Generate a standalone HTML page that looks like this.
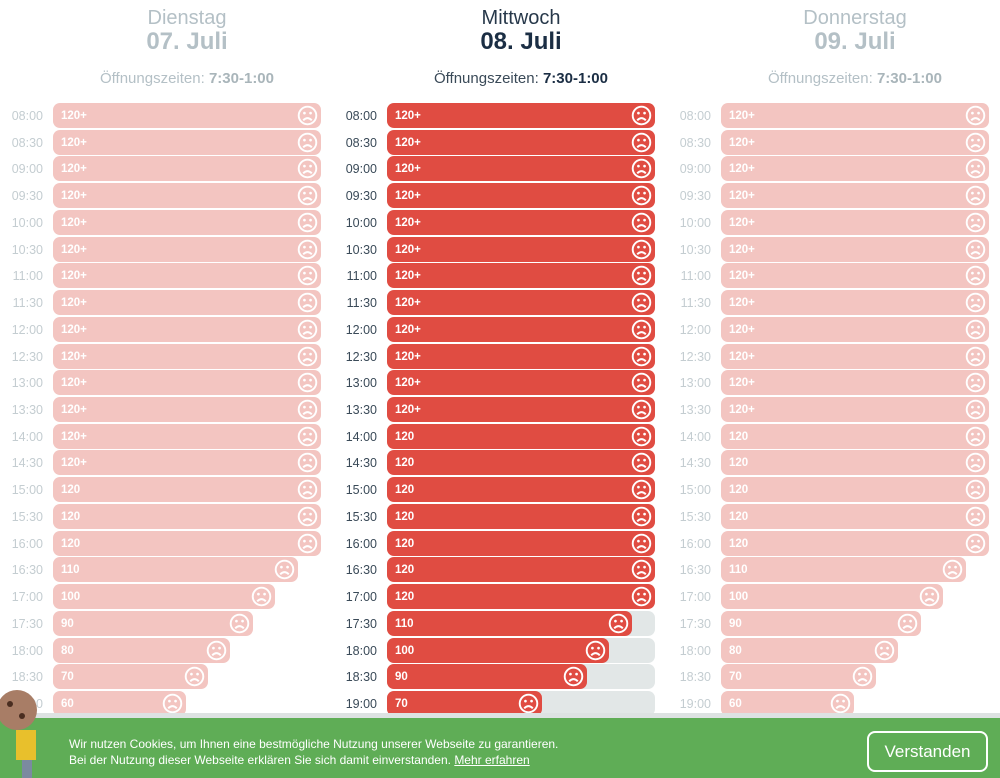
<!DOCTYPE html>
<html><head><meta charset="utf-8"><style>
*{margin:0;padding:0;box-sizing:border-box}
body{width:1000px;height:778px;overflow:hidden;background:#fff;font-family:"Liberation Sans",sans-serif;position:relative}
.col{position:absolute;top:0;width:334px;height:778px}
.h1{position:absolute;top:7px;left:53px;width:268px;text-align:center;font-size:20px;color:#b4c0c6}
.h2{position:absolute;top:28px;left:53px;width:268px;text-align:center;font-size:24px;font-weight:bold;color:#b4c0c6}
.oz{position:absolute;top:70px;left:53px;width:268px;text-align:center;font-size:15px;color:#b4c0c6}
.oz b{color:#a9b5ba}
.act .h1{color:#27384a}.act .h2{color:#1b2e44}.act .oz{color:#3a4a58}.act .oz b{color:#1b2e44}
.r{position:absolute;left:0;width:334px;height:25px}
.t{position:absolute;left:0;width:43px;text-align:right;top:6px;font-size:12.5px;color:#c4cdd1}
.act .t{color:#3a4a58}
.tr{position:absolute;left:53px;top:0;width:268px;height:25px;border-radius:7px;background:#e2e7e7}
.b{position:absolute;left:53px;top:0;height:25px;border-radius:7px;background:#f3c5c1}
.act .b{background:#e04c42}
.b b{position:absolute;left:8px;top:7px;font-size:11.5px;color:#fff}
.b svg{position:absolute;right:3px;top:2px}
.ban{position:absolute;left:0;top:718px;width:1000px;height:60px;background:#5fad56}
.sh{position:absolute;left:0;top:713px;width:1000px;height:5px;background:#dde2e2}
.txt{position:absolute;left:69px;top:736px;font-size:12px;line-height:16px;color:#fff}
.txt u{color:#fff}
.btn{position:absolute;left:867px;top:731px;width:121px;height:41px;border:2px solid #fff;border-radius:8px;color:#fff;font-size:17px;text-align:center;line-height:37px}
</style></head><body>
<svg width="0" height="0" style="position:absolute"><defs><symbol id="f" viewBox="0 0 22 22"><circle cx="11" cy="11" r="9.2" fill="none" stroke="#fff" stroke-width="2"/><circle cx="7.8" cy="8.5" r="1.4" fill="#fff"/><circle cx="14.2" cy="8.5" r="1.4" fill="#fff"/><path d="M6.5 16 Q11 11.5 15.5 16" fill="none" stroke="#fff" stroke-width="2"/></symbol></defs></svg>

<div class="col" style="left:0">
<div class="h1">Dienstag</div><div class="h2">07. Juli</div><div class="oz">Öffnungszeiten: <b>7:30-1:00</b></div>
<div class="r" style="top:103px"><span class="t">08:00</span><div class="b" style="width:268px"><b>120+</b><svg width="21" height="21"><use href="#f"/></svg></div></div>
<div class="r" style="top:130px"><span class="t">08:30</span><div class="b" style="width:268px"><b>120+</b><svg width="21" height="21"><use href="#f"/></svg></div></div>
<div class="r" style="top:156px"><span class="t">09:00</span><div class="b" style="width:268px"><b>120+</b><svg width="21" height="21"><use href="#f"/></svg></div></div>
<div class="r" style="top:183px"><span class="t">09:30</span><div class="b" style="width:268px"><b>120+</b><svg width="21" height="21"><use href="#f"/></svg></div></div>
<div class="r" style="top:210px"><span class="t">10:00</span><div class="b" style="width:268px"><b>120+</b><svg width="21" height="21"><use href="#f"/></svg></div></div>
<div class="r" style="top:237px"><span class="t">10:30</span><div class="b" style="width:268px"><b>120+</b><svg width="21" height="21"><use href="#f"/></svg></div></div>
<div class="r" style="top:263px"><span class="t">11:00</span><div class="b" style="width:268px"><b>120+</b><svg width="21" height="21"><use href="#f"/></svg></div></div>
<div class="r" style="top:290px"><span class="t">11:30</span><div class="b" style="width:268px"><b>120+</b><svg width="21" height="21"><use href="#f"/></svg></div></div>
<div class="r" style="top:317px"><span class="t">12:00</span><div class="b" style="width:268px"><b>120+</b><svg width="21" height="21"><use href="#f"/></svg></div></div>
<div class="r" style="top:344px"><span class="t">12:30</span><div class="b" style="width:268px"><b>120+</b><svg width="21" height="21"><use href="#f"/></svg></div></div>
<div class="r" style="top:370px"><span class="t">13:00</span><div class="b" style="width:268px"><b>120+</b><svg width="21" height="21"><use href="#f"/></svg></div></div>
<div class="r" style="top:397px"><span class="t">13:30</span><div class="b" style="width:268px"><b>120+</b><svg width="21" height="21"><use href="#f"/></svg></div></div>
<div class="r" style="top:424px"><span class="t">14:00</span><div class="b" style="width:268px"><b>120+</b><svg width="21" height="21"><use href="#f"/></svg></div></div>
<div class="r" style="top:450px"><span class="t">14:30</span><div class="b" style="width:268px"><b>120+</b><svg width="21" height="21"><use href="#f"/></svg></div></div>
<div class="r" style="top:477px"><span class="t">15:00</span><div class="b" style="width:268px"><b>120</b><svg width="21" height="21"><use href="#f"/></svg></div></div>
<div class="r" style="top:504px"><span class="t">15:30</span><div class="b" style="width:268px"><b>120</b><svg width="21" height="21"><use href="#f"/></svg></div></div>
<div class="r" style="top:531px"><span class="t">16:00</span><div class="b" style="width:268px"><b>120</b><svg width="21" height="21"><use href="#f"/></svg></div></div>
<div class="r" style="top:557px"><span class="t">16:30</span><div class="b" style="width:245px"><b>110</b><svg width="21" height="21"><use href="#f"/></svg></div></div>
<div class="r" style="top:584px"><span class="t">17:00</span><div class="b" style="width:222px"><b>100</b><svg width="21" height="21"><use href="#f"/></svg></div></div>
<div class="r" style="top:611px"><span class="t">17:30</span><div class="b" style="width:200px"><b>90</b><svg width="21" height="21"><use href="#f"/></svg></div></div>
<div class="r" style="top:638px"><span class="t">18:00</span><div class="b" style="width:177px"><b>80</b><svg width="21" height="21"><use href="#f"/></svg></div></div>
<div class="r" style="top:664px"><span class="t">18:30</span><div class="b" style="width:155px"><b>70</b><svg width="21" height="21"><use href="#f"/></svg></div></div>
<div class="r" style="top:691px"><span class="t">19:00</span><div class="b" style="width:133px"><b>60</b><svg width="21" height="21"><use href="#f"/></svg></div></div>
</div>

<div class="col act" style="left:334px">
<div class="h1">Mittwoch</div><div class="h2">08. Juli</div><div class="oz">Öffnungszeiten: <b>7:30-1:00</b></div>
<div class="r" style="top:103px"><span class="t">08:00</span><div class="b" style="width:268px"><b>120+</b><svg width="21" height="21"><use href="#f"/></svg></div></div>
<div class="r" style="top:130px"><span class="t">08:30</span><div class="b" style="width:268px"><b>120+</b><svg width="21" height="21"><use href="#f"/></svg></div></div>
<div class="r" style="top:156px"><span class="t">09:00</span><div class="b" style="width:268px"><b>120+</b><svg width="21" height="21"><use href="#f"/></svg></div></div>
<div class="r" style="top:183px"><span class="t">09:30</span><div class="b" style="width:268px"><b>120+</b><svg width="21" height="21"><use href="#f"/></svg></div></div>
<div class="r" style="top:210px"><span class="t">10:00</span><div class="b" style="width:268px"><b>120+</b><svg width="21" height="21"><use href="#f"/></svg></div></div>
<div class="r" style="top:237px"><span class="t">10:30</span><div class="b" style="width:268px"><b>120+</b><svg width="21" height="21"><use href="#f"/></svg></div></div>
<div class="r" style="top:263px"><span class="t">11:00</span><div class="b" style="width:268px"><b>120+</b><svg width="21" height="21"><use href="#f"/></svg></div></div>
<div class="r" style="top:290px"><span class="t">11:30</span><div class="b" style="width:268px"><b>120+</b><svg width="21" height="21"><use href="#f"/></svg></div></div>
<div class="r" style="top:317px"><span class="t">12:00</span><div class="b" style="width:268px"><b>120+</b><svg width="21" height="21"><use href="#f"/></svg></div></div>
<div class="r" style="top:344px"><span class="t">12:30</span><div class="b" style="width:268px"><b>120+</b><svg width="21" height="21"><use href="#f"/></svg></div></div>
<div class="r" style="top:370px"><span class="t">13:00</span><div class="b" style="width:268px"><b>120+</b><svg width="21" height="21"><use href="#f"/></svg></div></div>
<div class="r" style="top:397px"><span class="t">13:30</span><div class="b" style="width:268px"><b>120+</b><svg width="21" height="21"><use href="#f"/></svg></div></div>
<div class="r" style="top:424px"><span class="t">14:00</span><div class="b" style="width:268px"><b>120</b><svg width="21" height="21"><use href="#f"/></svg></div></div>
<div class="r" style="top:450px"><span class="t">14:30</span><div class="b" style="width:268px"><b>120</b><svg width="21" height="21"><use href="#f"/></svg></div></div>
<div class="r" style="top:477px"><span class="t">15:00</span><div class="b" style="width:268px"><b>120</b><svg width="21" height="21"><use href="#f"/></svg></div></div>
<div class="r" style="top:504px"><span class="t">15:30</span><div class="b" style="width:268px"><b>120</b><svg width="21" height="21"><use href="#f"/></svg></div></div>
<div class="r" style="top:531px"><span class="t">16:00</span><div class="b" style="width:268px"><b>120</b><svg width="21" height="21"><use href="#f"/></svg></div></div>
<div class="r" style="top:557px"><span class="t">16:30</span><div class="b" style="width:268px"><b>120</b><svg width="21" height="21"><use href="#f"/></svg></div></div>
<div class="r" style="top:584px"><span class="t">17:00</span><div class="b" style="width:268px"><b>120</b><svg width="21" height="21"><use href="#f"/></svg></div></div>
<div class="r" style="top:611px"><span class="t">17:30</span><div class="tr"></div><div class="b" style="width:245px"><b>110</b><svg width="21" height="21"><use href="#f"/></svg></div></div>
<div class="r" style="top:638px"><span class="t">18:00</span><div class="tr"></div><div class="b" style="width:222px"><b>100</b><svg width="21" height="21"><use href="#f"/></svg></div></div>
<div class="r" style="top:664px"><span class="t">18:30</span><div class="tr"></div><div class="b" style="width:200px"><b>90</b><svg width="21" height="21"><use href="#f"/></svg></div></div>
<div class="r" style="top:691px"><span class="t">19:00</span><div class="tr"></div><div class="b" style="width:155px"><b>70</b><svg width="21" height="21"><use href="#f"/></svg></div></div>
</div>

<div class="col" style="left:668px">
<div class="h1">Donnerstag</div><div class="h2">09. Juli</div><div class="oz">Öffnungszeiten: <b>7:30-1:00</b></div>
<div class="r" style="top:103px"><span class="t">08:00</span><div class="b" style="width:268px"><b>120+</b><svg width="21" height="21"><use href="#f"/></svg></div></div>
<div class="r" style="top:130px"><span class="t">08:30</span><div class="b" style="width:268px"><b>120+</b><svg width="21" height="21"><use href="#f"/></svg></div></div>
<div class="r" style="top:156px"><span class="t">09:00</span><div class="b" style="width:268px"><b>120+</b><svg width="21" height="21"><use href="#f"/></svg></div></div>
<div class="r" style="top:183px"><span class="t">09:30</span><div class="b" style="width:268px"><b>120+</b><svg width="21" height="21"><use href="#f"/></svg></div></div>
<div class="r" style="top:210px"><span class="t">10:00</span><div class="b" style="width:268px"><b>120+</b><svg width="21" height="21"><use href="#f"/></svg></div></div>
<div class="r" style="top:237px"><span class="t">10:30</span><div class="b" style="width:268px"><b>120+</b><svg width="21" height="21"><use href="#f"/></svg></div></div>
<div class="r" style="top:263px"><span class="t">11:00</span><div class="b" style="width:268px"><b>120+</b><svg width="21" height="21"><use href="#f"/></svg></div></div>
<div class="r" style="top:290px"><span class="t">11:30</span><div class="b" style="width:268px"><b>120+</b><svg width="21" height="21"><use href="#f"/></svg></div></div>
<div class="r" style="top:317px"><span class="t">12:00</span><div class="b" style="width:268px"><b>120+</b><svg width="21" height="21"><use href="#f"/></svg></div></div>
<div class="r" style="top:344px"><span class="t">12:30</span><div class="b" style="width:268px"><b>120+</b><svg width="21" height="21"><use href="#f"/></svg></div></div>
<div class="r" style="top:370px"><span class="t">13:00</span><div class="b" style="width:268px"><b>120+</b><svg width="21" height="21"><use href="#f"/></svg></div></div>
<div class="r" style="top:397px"><span class="t">13:30</span><div class="b" style="width:268px"><b>120+</b><svg width="21" height="21"><use href="#f"/></svg></div></div>
<div class="r" style="top:424px"><span class="t">14:00</span><div class="b" style="width:268px"><b>120</b><svg width="21" height="21"><use href="#f"/></svg></div></div>
<div class="r" style="top:450px"><span class="t">14:30</span><div class="b" style="width:268px"><b>120</b><svg width="21" height="21"><use href="#f"/></svg></div></div>
<div class="r" style="top:477px"><span class="t">15:00</span><div class="b" style="width:268px"><b>120</b><svg width="21" height="21"><use href="#f"/></svg></div></div>
<div class="r" style="top:504px"><span class="t">15:30</span><div class="b" style="width:268px"><b>120</b><svg width="21" height="21"><use href="#f"/></svg></div></div>
<div class="r" style="top:531px"><span class="t">16:00</span><div class="b" style="width:268px"><b>120</b><svg width="21" height="21"><use href="#f"/></svg></div></div>
<div class="r" style="top:557px"><span class="t">16:30</span><div class="b" style="width:245px"><b>110</b><svg width="21" height="21"><use href="#f"/></svg></div></div>
<div class="r" style="top:584px"><span class="t">17:00</span><div class="b" style="width:222px"><b>100</b><svg width="21" height="21"><use href="#f"/></svg></div></div>
<div class="r" style="top:611px"><span class="t">17:30</span><div class="b" style="width:200px"><b>90</b><svg width="21" height="21"><use href="#f"/></svg></div></div>
<div class="r" style="top:638px"><span class="t">18:00</span><div class="b" style="width:177px"><b>80</b><svg width="21" height="21"><use href="#f"/></svg></div></div>
<div class="r" style="top:664px"><span class="t">18:30</span><div class="b" style="width:155px"><b>70</b><svg width="21" height="21"><use href="#f"/></svg></div></div>
<div class="r" style="top:691px"><span class="t">19:00</span><div class="b" style="width:133px"><b>60</b><svg width="21" height="21"><use href="#f"/></svg></div></div>
</div>

<div class="sh"></div>
<div class="ban"></div>
<svg style="position:absolute;left:0;top:688px" width="45" height="90"><circle cx="17" cy="22" r="20" fill="#a87d66"/><circle cx="10" cy="16" r="3" fill="#4a2d20"/><circle cx="22" cy="28" r="3" fill="#4a2d20"/><rect x="16" y="42" width="20" height="30" fill="#e8c02c"/><rect x="22" y="72" width="10" height="18" fill="#7b8aa0"/></svg>
<div class="txt">Wir nutzen Cookies, um Ihnen eine bestmögliche Nutzung unserer Webseite zu garantieren.<br>Bei der Nutzung dieser Webseite erklären Sie sich damit einverstanden. <u>Mehr erfahren</u></div>
<div class="btn">Verstanden</div>
</body></html>
